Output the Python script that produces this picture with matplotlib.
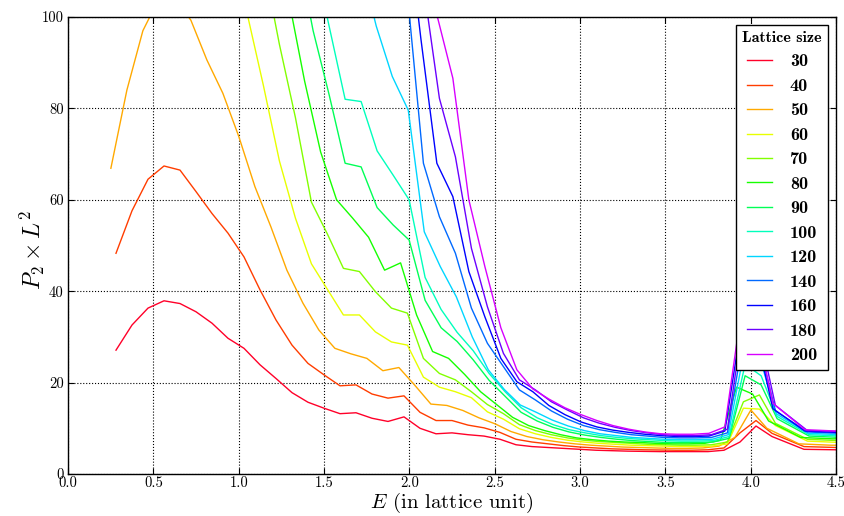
import matplotlib
matplotlib.use("Agg")
import matplotlib.pyplot as plt
from matplotlib.font_manager import FontProperties
import numpy as np

# Energy grid (lattice units)
E_GRID = [0.28125, 0.375, 0.46875, 0.5625, 0.65625, 0.75, 0.84375, 0.9375, 1.03125, 1.125,
          1.21875, 1.3125, 1.40625, 1.5, 1.59375, 1.6875, 1.78125, 1.875, 1.96875, 2.0625,
          2.15625, 2.25, 2.34375, 2.4375, 2.53125, 2.625, 2.71875, 2.8125, 2.90625, 3.0,
          3.09375, 3.1875, 3.28125, 3.375, 3.46875, 3.5625, 3.65625, 3.75, 3.84375, 3.9375,
          4.03125, 4.125, 4.21875, 4.3125, 4.40625, 4.5, 4.59375]

SIZES = [30, 40, 50, 60, 70, 80, 90, 100, 120, 140, 160, 180, 200]
E_SHIFT = [0.0, 0.0, -0.03, 0.02, 0.02, -0.02, 0.03, 0.03, 0.025, 0.02, 0.005, 0.02, 0.005]

N = None
P30 = [27.1, 32.6, 36.3, 37.9, 37.3, 35.5, 33.0, 29.7, 27.5, 23.9,
       20.9, 17.8, 15.7, 14.4, 13.2, 13.4, 12.2, 11.5, 12.5, 10.0,
       8.8, 9.0, 8.6, 8.3, 7.6, 6.4, 6.0, 5.8, 5.6, 5.4,
       5.2, 5.1, 5.0, 4.95, 4.9, 4.9, 4.9, 4.9, 5.2, 7.0,
       10.5, 8.2, N, 5.4, N, 5.3, N]
P40 = [48.3, 57.6, 64.5, 67.4, 66.5, 61.8, 57.0, 52.7, 47.5, 40.3,
       33.7, 28.2, 24.2, 21.7, 19.3, 19.5, 17.5, 16.6, 17.1, 13.5,
       11.7, 11.7, 10.7, 10.1, 9.1, 7.6, 7.0, 6.6, 6.2, 5.9,
       5.7, 5.5, 5.4, 5.3, 5.25, 5.2, 5.2, 5.3, 5.7, 9.0,
       11.7, 8.9, N, 6.0, N, 5.8, N]
P50 = [66.9, 84.0, 97.0, 104.0, 104.0, 99.3, 90.6, 83.3, 73.8, 62.9,
       54.1, 44.6, 37.4, 31.5, 27.5, 26.3, 25.3, 22.6, 23.3, 19.4,
       15.3, 15.0, 13.9, 12.3, 11.0, 9.3, 8.2, 7.5, 7.0, 6.6,
       6.3, 6.1, 5.9, 5.8, 5.7, 5.6, 5.6, 5.7, 6.1, 8.0,
       14.0, 10.0, N, 6.6, N, 6.3, 6.3]
P60 = [N, N, N, N, N, N, N, 116.0, 100.5, 85.0,
       68.5, 56.0, 46.0, 40.4, 34.8, 34.8, 31.1, 28.9, 28.2, 21.2,
       19.0, 18.0, 16.7, 13.6, 12.0, 9.9, 8.8, 8.0, 7.4, 7.0,
       6.7, 6.5, 6.3, 6.2, 6.1, 6.0, 6.0, 6.1, 6.6, 14.4,
       14.2, 10.6, N, 7.2, N, 6.9, N]
P70 = [N, N, N, N, N, N, N, N, N, 112.0,
       94.0, 78.0, 59.5, 52.5, 45.0, 44.3, 39.9, 36.3, 35.2, 25.3,
       22.0, 20.6, 18.0, 15.2, 13.2, 10.8, 9.5, 8.6, 7.9, 7.4,
       7.1, 6.9, 6.7, 6.5, 6.4, 6.3, 6.3, 6.4, 7.0, 15.8,
       17.3, 11.1, N, 7.6, N, 7.3, N]
P80 = [N, N, N, N, N, N, N, N, N, N,
       N, 104.0, 86.0, 70.5, 60.0, 56.0, 51.8, 44.6, 46.2, 34.8,
       26.8, 25.3, 21.8, 18.0, 15.2, 12.4, 10.6, 9.5, 8.6, 7.9,
       7.5, 7.2, 7.0, 6.9, 6.7, 6.6, 6.6, 6.7, 7.4, 19.0,
       17.5, 11.6, N, 8.0, N, 7.7, 7.7]
P90 = [N, N, N, N, N, N, N, N, N, N,
       N, 115.0, 97.0, 83.0, 68.0, 67.2, 58.3, 54.5, 51.2, 38.0,
       32.0, 29.0, 25.0, 20.5, 17.0, 13.5, 11.6, 10.2, 9.2, 8.5,
       8.0, 7.6, 7.3, 7.1, 6.9, 6.9, 6.9, 7.0, 7.8, 21.5,
       19.5, 12.1, N, 8.3, N, 8.0, N]
P100 = [N, N, N, N, N, N, N, N, N, N,
        N, N, 114.0, 98.0, 82.0, 81.5, 70.7, 65.4, 60.0, 43.0,
        36.0, 31.0, 27.0, 22.0, 18.0, 14.5, 12.3, 10.8, 9.7, 9.0,
        8.4, 8.0, 7.7, 7.5, 7.3, 7.2, 7.2, 7.3, 8.2, 24.0,
        21.5, 12.6, N, 8.6, N, 8.3, N]
P120 = [N, N, N, N, N, N, N, N, N, N,
        N, N, N, N, N, 112.0, 98.0, 87.0, 79.6, 53.0,
        45.4, 38.8, 30.0, 22.8, 18.5, 15.1, 13.5, 11.8, 10.5, 9.5,
        8.8, 8.4, 8.0, 7.8, 7.6, 7.5, 7.5, 7.6, 8.6, 27.0,
        25.0, 13.2, N, 8.9, N, 8.6, N]
P140 = [N, N, N, N, N, N, N, N, N, N,
        N, N, N, N, N, N, N, N, 105.0, 68.0,
        56.3, 48.3, 36.3, 28.6, 23.5, 18.4, 16.2, 13.8, 12.0, 10.6,
        9.7, 9.1, 8.6, 8.3, 8.0, 7.9, 7.9, 8.0, 9.0, 30.0,
        28.0, 13.8, N, 9.2, N, 8.9, N]
P160 = [N, N, N, N, N, N, N, N, N, N,
        N, N, N, N, N, N, N, N, 125.0, 95.3,
        68.0, 60.7, 44.3, 34.4, 25.3, 20.2, 18.0, 15.0, 13.0, 11.4,
        10.3, 9.6, 9.1, 8.7, 8.4, 8.2, 8.2, 8.3, 9.4, 32.0,
        30.0, 14.3, N, 9.4, N, 9.1, N]
P180 = [N, N, N, N, N, N, N, N, N, N,
        N, N, N, N, N, N, N, N, N, 107.0,
        82.2, 69.4, 49.4, 36.6, 26.4, 20.6, 18.4, 15.8, 14.0, 12.3,
        11.1, 10.2, 9.5, 9.0, 8.6, 8.4, 8.4, 8.6, 9.8, 34.0,
        31.0, 15.0, N, 9.5, N, 9.3, N]
P200 = [N, N, N, N, N, N, N, N, N, N,
        N, N, N, N, N, N, N, N, N, 125.0,
        100.5, 86.6, 60.0, 45.4, 32.0, 22.8, 18.6, 16.4, 14.5, 13.0,
        11.7, 10.6, 9.8, 9.2, 8.8, 8.7, 8.7, 8.9, 10.3, 35.0,
        32.0, 15.5, N, 9.7, N, 9.4, N]

SERIES = [P30, P40, P50, P60, P70, P80, P90, P100, P120, P140, P160, P180, P200]

X_TICKS = [0.0, 0.5, 1.0, 1.5, 2.0, 2.5, 3.0, 3.5, 4.0, 4.5]
Y_TICKS = [0, 20, 40, 60, 80, 100]

plt.rcParams['font.family'] = 'cmr10'
plt.rcParams['mathtext.fontset'] = 'cm'
plt.rcParams['axes.formatter.use_mathtext'] = True

fig = plt.figure(figsize=(8.45, 5.16), dpi=100)
ax = fig.add_axes([68 / 845, 42 / 516, 768 / 845, 457 / 516])

colors = plt.cm.gist_rainbow(np.arange(len(SIZES)) / len(SIZES))
for size, vals, shift, c in zip(SIZES, SERIES, E_SHIFT, colors):
    xs = [e + shift for e, v in zip(E_GRID, vals) if v is not None]
    ys = [v for v in vals if v is not None]
    ax.plot(xs, ys, color=c, linewidth=1.0, label=str(size))

ax.set_xlim(0, 4.5)
ax.set_ylim(0, 100)
ax.set_xticks(X_TICKS)
ax.set_xticklabels([f"{t:.1f}" for t in X_TICKS])
ax.set_yticks(Y_TICKS)
ax.set_yticklabels([str(t) for t in Y_TICKS])
ax.tick_params(direction='in', top=True, right=True, length=4, width=0.8,
               labelsize=10.5)
ax.tick_params(axis='x', pad=2)
ax.tick_params(axis='y', pad=3)
ax.grid(True, color='k', linestyle=':', linewidth=0.8)
for sp in ax.spines.values():
    sp.set_linewidth(1.0)

ax.set_xlabel(r"$E$ (in lattice unit)", fontsize=15)
ax.xaxis.set_label_coords(0.5, -0.037)
ax.set_ylabel(r"$P_2 \times L^2$", fontsize=17)
ax.yaxis.set_label_coords(-0.027, 0.49)

leg_font = FontProperties(family='cmb10', size=13)
title_font = FontProperties(family='cmb10', size=11.5)
leg = ax.legend(loc='upper right', prop=leg_font, title="Lattice size",
                title_fontproperties=title_font, fancybox=False, framealpha=1,
                edgecolor='k', handlelength=1.35, labelspacing=0.49,
                borderaxespad=0.42, borderpad=0.35, handletextpad=1.0)
leg.get_frame().set_linewidth(1.0)

fig.savefig("out.png", dpi=100)
